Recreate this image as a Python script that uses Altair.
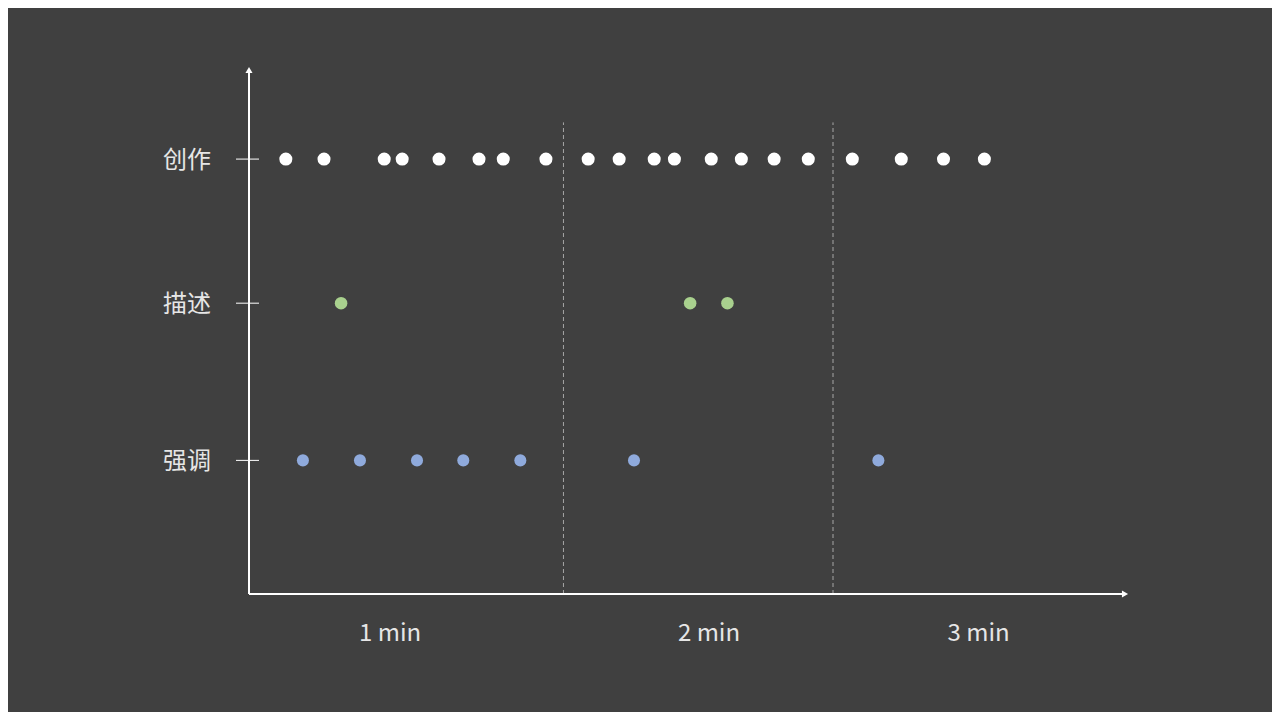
import altair as alt
import pandas as pd

# ---- data ----
rows = ["创作", "描述", "强调"]
row_levels = [8.3, 5.55, 2.55]          # vertical level of each row (0..10 scale)
row_colors = ["#ffffff", "#a9d18e", "#8faadc"]

t_create = [8.2, 16.7, 30.1, 34.1, 42.3, 51.2, 56.6, 66.1, 75.5, 82.4,
            90.2, 94.7, 102.9, 109.6, 116.9, 124.5, 134.3, 145.2, 154.6, 163.7]
t_describe = [20.5, 98.2, 106.5]
t_emphasis = [12.0, 24.7, 37.4, 47.7, 60.4, 85.7, 140.1]

minute_labels = ["1 min", "2 min", "3 min"]
minute_label_pos = [31.4, 102.4, 162.4]
minute_bounds = [70, 130]

X_MAX = 195
Y_MAX = 10

level = dict(zip(rows, row_levels))
pts = pd.DataFrame(
    [{"t": t, "row": "创作", "lvl": level["创作"]} for t in t_create]
    + [{"t": t, "row": "描述", "lvl": level["描述"]} for t in t_describe]
    + [{"t": t, "row": "强调", "lvl": level["强调"]} for t in t_emphasis]
)
rows_df = pd.DataFrame({"row": rows, "lvl": row_levels})
bounds_df = pd.DataFrame({"t": minute_bounds, "y0": [0] * 2, "y1": [9.0] * 2})
mins_df = pd.DataFrame({"label": minute_labels, "t": minute_label_pos})

xs = alt.Scale(domain=[0, X_MAX], nice=False, zero=False)
ys = alt.Scale(domain=[0, Y_MAX], nice=False, zero=False)

W, H = 876, 524

# axes lines
axes_df = pd.DataFrame({"x0": [0, 0], "x1": [X_MAX, 0], "y0": [0, 0], "y1": [0, Y_MAX]})
axis_lines = alt.Chart(axes_df).mark_rule(color="#ffffff", strokeWidth=2).encode(
    x=alt.X("x0:Q", scale=xs, axis=None), x2="x1:Q",
    y=alt.Y("y0:Q", scale=ys, axis=None), y2="y1:Q",
)
arrow_up = alt.Chart(pd.DataFrame({"x": [0], "y": [Y_MAX]})).mark_point(
    shape="triangle-up", filled=True, color="#ffffff", size=50, opacity=1
).encode(x=alt.X("x:Q", scale=xs, axis=None), y=alt.Y("y:Q", scale=ys, axis=None))
arrow_right = alt.Chart(pd.DataFrame({"x": [X_MAX], "y": [0]})).mark_point(
    shape="triangle-right", filled=True, color="#ffffff", size=50, opacity=1
).encode(x=alt.X("x:Q", scale=xs, axis=None), y=alt.Y("y:Q", scale=ys, axis=None))

# dashed minute boundaries
bounds = alt.Chart(bounds_df).mark_rule(color="#a6a6a6", strokeWidth=1, strokeDash=[4, 3]).encode(
    x=alt.X("t:Q", scale=xs, axis=None),
    y=alt.Y("y0:Q", scale=ys, axis=None), y2="y1:Q",
)

# row ticks
ticks = alt.Chart(rows_df).mark_rule(color="#ffffff", strokeWidth=1).encode(
    x=alt.value(-13), x2=alt.value(10),
    y=alt.Y("lvl:Q", scale=ys, axis=None),
)

# row labels
row_text = alt.Chart(rows_df).mark_text(
    font="Noto Sans CJK SC", fontSize=24, color="#e6e6e6", align="center", baseline="middle", dy=2
).encode(
    x=alt.value(-62),
    y=alt.Y("lvl:Q", scale=ys, axis=None),
    text="row:N",
)

# minute labels
min_text = alt.Chart(mins_df).mark_text(
    font="Noto Sans CJK SC", fontSize=24, color="#e6e6e6", align="center", baseline="middle", dy=1
).encode(
    x=alt.X("t:Q", scale=xs, axis=None),
    y=alt.value(563),
    text="label:N",
)

color_scale = alt.Scale(domain=rows, range=row_colors)
dots = alt.Chart(pts).mark_circle(opacity=1).encode(
    x=alt.X("t:Q", scale=xs, axis=None),
    y=alt.Y("lvl:Q", scale=ys, axis=None),
    color=alt.Color("row:N", scale=color_scale, legend=None),
    size=alt.Size("row:N", scale=alt.Scale(domain=rows, range=[170, 145, 145]), legend=None),
)

chart = alt.layer(bounds, axis_lines, arrow_up, arrow_right, ticks, row_text, min_text, dots).properties(
    width=W, height=H,
    autosize=alt.AutoSizeParams(type="none"),
    padding={"left": 241, "top": 62, "right": 147, "bottom": 118},
    background="#404040",
).configure_view(stroke=None)

chart.save("out.html", embed_options={"renderer": "svg", "actions": False})
